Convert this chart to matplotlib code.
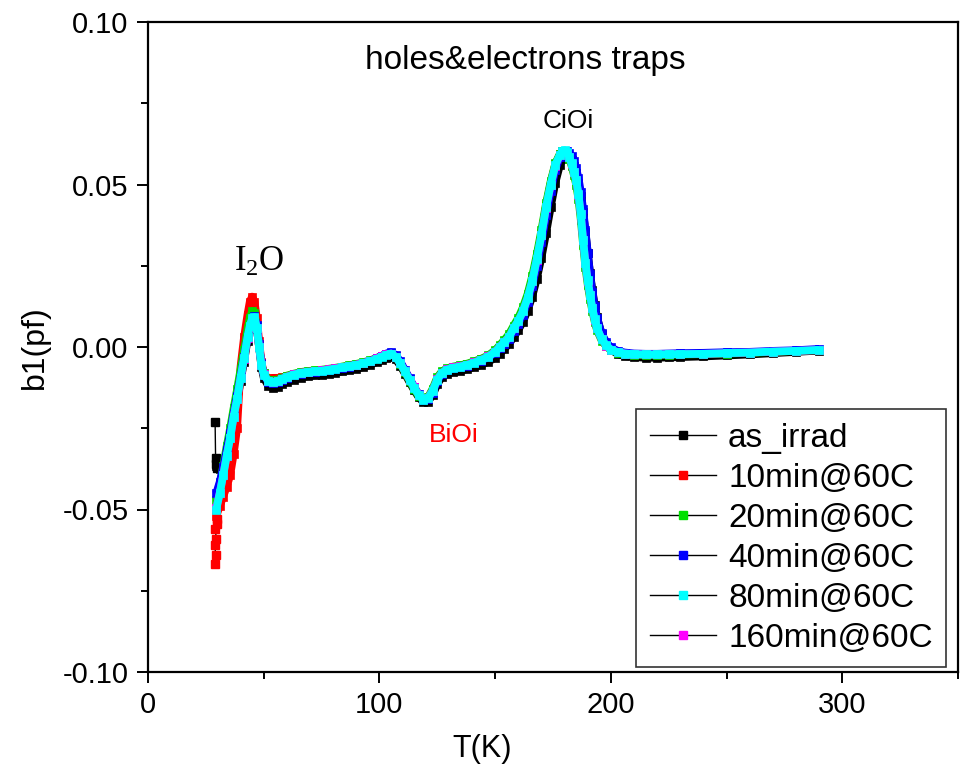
import matplotlib
matplotlib.use("Agg")
import matplotlib.pyplot as plt
from matplotlib.lines import Line2D
from matplotlib.ticker import MultipleLocator, FormatStrFormatter

plt.rcParams['font.family'] = ['Liberation Sans', 'DejaVu Sans']
plt.rcParams['axes.unicode_minus'] = False

# Temperature grid of the DLTS scans (K)
temp_k = [29.5, 31, 32.5, 34, 35.5, 37, 38.5, 40, 41.5, 43,
          44, 45, 46, 47, 48, 49, 50,
          52, 54, 56, 58, 60,
          63, 66, 69, 72, 75, 78, 81, 84, 87, 90, 93, 96, 99,
          101, 103, 105, 107, 109, 111, 113, 115, 117, 119, 121, 123, 125, 127, 129,
          132, 135, 138, 141, 144, 147, 150,
          152, 154, 156, 158, 160, 162, 164, 166, 168, 170, 172, 174, 176, 178,
          179, 180, 181, 182, 183, 184, 185, 186, 187, 188, 189, 190, 191, 192, 193, 194,
          196, 198, 200, 203, 206, 210, 215, 220, 225, 230,
          240, 250, 260, 270, 280, 290]

# b1 signal (pF) for each annealing step
b1_as_irrad = [-0.0365, -0.0375, -0.0370, -0.0340, -0.0288, -0.0225, -0.0168, -0.0105, -0.0045, 0.0020,
               0.0055, 0.0078, 0.0085, 0.0058, 0.0000, -0.0060, -0.0095,
               -0.0120, -0.0125, -0.0122, -0.0115, -0.0108,
               -0.0100, -0.0094, -0.0090, -0.0087, -0.0085, -0.0082, -0.0079, -0.0075, -0.0071, -0.0067, -0.0062, -0.0055, -0.0046,
               -0.0040, -0.0033, -0.0030, -0.0038, -0.0057, -0.0082, -0.0108, -0.0133, -0.0155, -0.0170, -0.0168, -0.0148, -0.0115, -0.0092, -0.0082,
               -0.0077, -0.0073, -0.0068, -0.0062, -0.0055, -0.0046, -0.0033,
               -0.0020, -0.0006, 0.0010, 0.0030, 0.0052, 0.0078, 0.0112, 0.0155, 0.0210, 0.0275, 0.0350, 0.0430, 0.0505, 0.0560,
               0.0578, 0.0588, 0.0590, 0.0585, 0.0575, 0.0558, 0.0535, 0.0505, 0.0465, 0.0415, 0.0355, 0.0290, 0.0228, 0.0175, 0.0130, 0.0092,
               0.0040, 0.0010, -0.0008, -0.0022, -0.0028, -0.0031, -0.0033, -0.0033, -0.0032, -0.0031,
               -0.0029, -0.0026, -0.0023, -0.0019, -0.0015, -0.0011]

b1_10min = [-0.0520, -0.0490, -0.0460, -0.0430, -0.0395, -0.0330, -0.0250, -0.0060, 0.0030, 0.0100,
            0.0140, 0.0155, 0.0140, 0.0090, 0.0020, -0.0045, -0.0080,
            -0.0098, -0.0095, -0.0095, -0.0093, -0.0090,
            -0.0084, -0.0079, -0.0076, -0.0074, -0.0072, -0.0069, -0.0066, -0.0062, -0.0058, -0.0054, -0.0049, -0.0043, -0.0035,
            -0.0029, -0.0023, -0.0019, -0.0029, -0.0049, -0.0074, -0.0099, -0.0124, -0.0147, -0.0161, -0.0157, -0.0133, -0.0098, -0.0078, -0.0068,
            -0.0062, -0.0058, -0.0053, -0.0046, -0.0038, -0.0028, -0.0013,
            0.0002, 0.0018, 0.0034, 0.0061, 0.0084, 0.0114, 0.0155, 0.0208, 0.0275, 0.0350, 0.0435, 0.0505, 0.0562, 0.0593,
            0.0602, 0.0604, 0.0599, 0.0585, 0.0566, 0.0542, 0.0517, 0.0474, 0.0416, 0.0338, 0.0268, 0.0212, 0.0165, 0.0124, 0.0088, 0.0060,
            0.0026, 0.0005, -0.0008, -0.0016, -0.0020, -0.0022, -0.0023, -0.0023, -0.0022, -0.0022,
            -0.0021, -0.0019, -0.0017, -0.0014, -0.0012, -0.0009]

b1_20min = [-0.0470, -0.0420, -0.0365, -0.0305, -0.0250, -0.0188, -0.0130, -0.0068, -0.0010, 0.0055,
            0.0090, 0.0110, 0.0105, 0.0065, 0.0000, -0.0052, -0.0080,
            -0.0100, -0.0103, -0.0100, -0.0094, -0.0088,
            -0.0082, -0.0077, -0.0074, -0.0072, -0.0070, -0.0067, -0.0064, -0.0060, -0.0056, -0.0052, -0.0047, -0.0041, -0.0033,
            -0.0027, -0.0021, -0.0018, -0.0030, -0.0052, -0.0078, -0.0104, -0.0130, -0.0152, -0.0163, -0.0155, -0.0128, -0.0093, -0.0075, -0.0066,
            -0.0060, -0.0056, -0.0051, -0.0044, -0.0036, -0.0026, -0.0010,
            0.0006, 0.0022, 0.0040, 0.0066, 0.0090, 0.0122, 0.0163, 0.0218, 0.0285, 0.0360, 0.0442, 0.0510, 0.0565, 0.0595,
            0.0603, 0.0603, 0.0596, 0.0580, 0.0558, 0.0530, 0.0500, 0.0455, 0.0392, 0.0315, 0.0245, 0.0192, 0.0148, 0.0110, 0.0078, 0.0052,
            0.0020, 0.0002, -0.0010, -0.0018, -0.0022, -0.0024, -0.0025, -0.0025, -0.0024, -0.0023,
            -0.0022, -0.0020, -0.0018, -0.0015, -0.0012, -0.0009]

b1_40min = [-0.0450, -0.0415, -0.0370, -0.0318, -0.0265, -0.0205, -0.0150, -0.0090, -0.0032, 0.0030,
            0.0062, 0.0085, 0.0095, 0.0068, 0.0010, -0.0050, -0.0085,
            -0.0108, -0.0112, -0.0108, -0.0100, -0.0094,
            -0.0087, -0.0082, -0.0078, -0.0076, -0.0074, -0.0071, -0.0068, -0.0064, -0.0060, -0.0055, -0.0050, -0.0043, -0.0034,
            -0.0027, -0.0020, -0.0016, -0.0024, -0.0044, -0.0070, -0.0096, -0.0122, -0.0146, -0.0162, -0.0160, -0.0140, -0.0105, -0.0083, -0.0072,
            -0.0066, -0.0062, -0.0057, -0.0050, -0.0042, -0.0032, -0.0018,
            -0.0004, 0.0010, 0.0026, 0.0050, 0.0072, 0.0100, 0.0138, 0.0188, 0.0250, 0.0322, 0.0405, 0.0480, 0.0545, 0.0585,
            0.0598, 0.0603, 0.0603, 0.0598, 0.0588, 0.0572, 0.0550, 0.0520, 0.0478, 0.0425, 0.0360, 0.0290, 0.0225, 0.0170, 0.0125, 0.0090,
            0.0042, 0.0015, -0.0001, -0.0012, -0.0017, -0.0020, -0.0021, -0.0021, -0.0020, -0.0019,
            -0.0018, -0.0016, -0.0015, -0.0012, -0.0010, -0.0006]

b1_80min = [-0.0500, -0.0450, -0.0395, -0.0335, -0.0280, -0.0215, -0.0160, -0.0095, -0.0035, 0.0030,
            0.0065, 0.0088, 0.0092, 0.0060, 0.0000, -0.0055, -0.0085,
            -0.0105, -0.0108, -0.0105, -0.0098, -0.0092,
            -0.0085, -0.0080, -0.0077, -0.0075, -0.0073, -0.0070, -0.0067, -0.0063, -0.0059, -0.0055, -0.0050, -0.0044, -0.0036,
            -0.0030, -0.0024, -0.0020, -0.0030, -0.0050, -0.0075, -0.0100, -0.0125, -0.0148, -0.0162, -0.0158, -0.0135, -0.0100, -0.0080, -0.0070,
            -0.0064, -0.0060, -0.0055, -0.0048, -0.0040, -0.0030, -0.0015,
            0.0000, 0.0015, 0.0030, 0.0058, 0.0080, 0.0110, 0.0150, 0.0203, 0.0270, 0.0345, 0.0430, 0.0500, 0.0560, 0.0592,
            0.0602, 0.0605, 0.0600, 0.0585, 0.0565, 0.0540, 0.0515, 0.0470, 0.0410, 0.0330, 0.0260, 0.0205, 0.0160, 0.0120, 0.0085, 0.0058,
            0.0025, 0.0005, -0.0008, -0.0016, -0.0020, -0.0022, -0.0023, -0.0023, -0.0022, -0.0022,
            -0.0021, -0.0019, -0.0017, -0.0014, -0.0012, -0.0009]

b1_160min = [-0.0495, -0.0448, -0.0393, -0.0334, -0.0279, -0.0214, -0.0159, -0.0095, -0.0036, 0.0028,
             0.0063, 0.0086, 0.0090, 0.0059, 0.0000, -0.0054, -0.0084,
             -0.0104, -0.0107, -0.0104, -0.0097, -0.0091,
             -0.0084, -0.0079, -0.0076, -0.0074, -0.0072, -0.0069, -0.0066, -0.0062, -0.0058, -0.0054, -0.0049, -0.0043, -0.0035,
             -0.0029, -0.0023, -0.0020, -0.0030, -0.0050, -0.0075, -0.0100, -0.0124, -0.0147, -0.0161, -0.0157, -0.0134, -0.0099, -0.0079, -0.0069,
             -0.0063, -0.0059, -0.0054, -0.0047, -0.0039, -0.0029, -0.0014,
             0.0001, 0.0016, 0.0031, 0.0058, 0.0080, 0.0110, 0.0150, 0.0202, 0.0269, 0.0344, 0.0428, 0.0498, 0.0558, 0.0590,
             0.0600, 0.0603, 0.0598, 0.0584, 0.0564, 0.0539, 0.0513, 0.0468, 0.0408, 0.0329, 0.0259, 0.0204, 0.0159, 0.0119, 0.0084, 0.0057,
             0.0024, 0.0004, -0.0008, -0.0016, -0.0020, -0.0022, -0.0023, -0.0023, -0.0022, -0.0022,
             -0.0021, -0.0019, -0.0017, -0.0014, -0.0012, -0.0009]

# Scattered first readings while the cryostat settles (K, pF)
start_t_as_irrad = [29.0, 29.2, 29.4, 29.7]
start_b1_as_irrad = [-0.0232, -0.0340, -0.0360, -0.0372]
start_t_10min = [28.9, 29.3, 28.8, 29.5, 29.1, 29.6, 30.0]
start_b1_10min = [-0.0668, -0.0640, -0.0610, -0.0590, -0.0560, -0.0545, -0.0530]

labels = ['as_irrad', '10min@60C', '20min@60C', '40min@60C', '80min@60C', '160min@60C']
colors = ['#000000', '#ff0000', '#00e000', '#0000ff', '#00ffff', '#ff00ff']
series = [b1_as_irrad, b1_10min, b1_20min, b1_40min, b1_80min, b1_160min]

fig = plt.figure(figsize=(9.6, 7.74), dpi=100)
ax = fig.add_axes([148 / 960, 1 - 672 / 774, 810 / 960, 650 / 774])

# drawing order: as_irrad at the back, 80min on top
order = [0, 1, 2, 3, 5, 4]
for z, i in enumerate(order):
    ax.plot(temp_k, series[i], '-', color=colors[i], lw=5.6,
            solid_joinstyle='round', solid_capstyle='butt', zorder=2 + z)
    ax.plot(temp_k, series[i], 's', color=colors[i], ms=5.8, mec=colors[i],
            mew=0.5, zorder=2 + z)

for st, sb, c in [(start_t_as_irrad, start_b1_as_irrad, colors[0]),
                  (start_t_10min, start_b1_10min, colors[1])]:
    ax.plot(st, sb, '-', color='black', lw=1.0, zorder=1.5)
    ax.plot(st, sb, 's', color=c, ms=5.8, mec=c, zorder=2)

ax.set_xlim(0, 350)
ax.set_ylim(-0.10, 0.10)
ax.xaxis.set_major_locator(MultipleLocator(100))
ax.xaxis.set_minor_locator(MultipleLocator(50))
ax.yaxis.set_major_locator(MultipleLocator(0.05))
ax.yaxis.set_minor_locator(MultipleLocator(0.025))
ax.yaxis.set_major_formatter(FormatStrFormatter('%.2f'))

for s in ax.spines.values():
    s.set_linewidth(1.6)
ax.tick_params(which='both', direction='out', top=False, right=False, width=1.4,
               labelsize=21)
ax.tick_params(which='major', length=8, pad=6)
ax.tick_params(which='minor', length=5)

ax.set_xlabel('T(K)', fontsize=22)
ax.set_ylabel('b1(pf)', fontsize=23)
ax.xaxis.set_label_coords((482 - 148) / 810, -0.096)
ax.yaxis.set_label_coords(-(148 - 50) / 810, 0.5)

ax.text(163, 0.088, 'holes&electrons traps', fontsize=24, ha='center', va='center')
ax.text(181.5, 0.0695, 'CiOi', fontsize=19, ha='center', va='center')
ax.text(132, -0.0272, 'BiOi', fontsize=19, color='red', ha='center', va='center')
ax.text(48, 0.0262, r'$\mathregular{I_2O}$', fontsize=25, ha='center', va='center',
        family='Liberation Serif')

handles = [Line2D([], [], color='black', lw=1.0, marker='s', ms=6,
                  mfc=c, mec=c) for c in colors]
leg = ax.legend(handles, labels, loc='lower right', bbox_to_anchor=(1 - 12 / 810, 5 / 650),
                fontsize=24, frameon=True, fancybox=False, framealpha=1,
                edgecolor='#333333', borderpad=0.4, labelspacing=0.27,
                handlelength=2.0, handletextpad=0.35, borderaxespad=0)
leg.get_frame().set_linewidth(1.2)

fig.savefig('out.png', dpi=100)
